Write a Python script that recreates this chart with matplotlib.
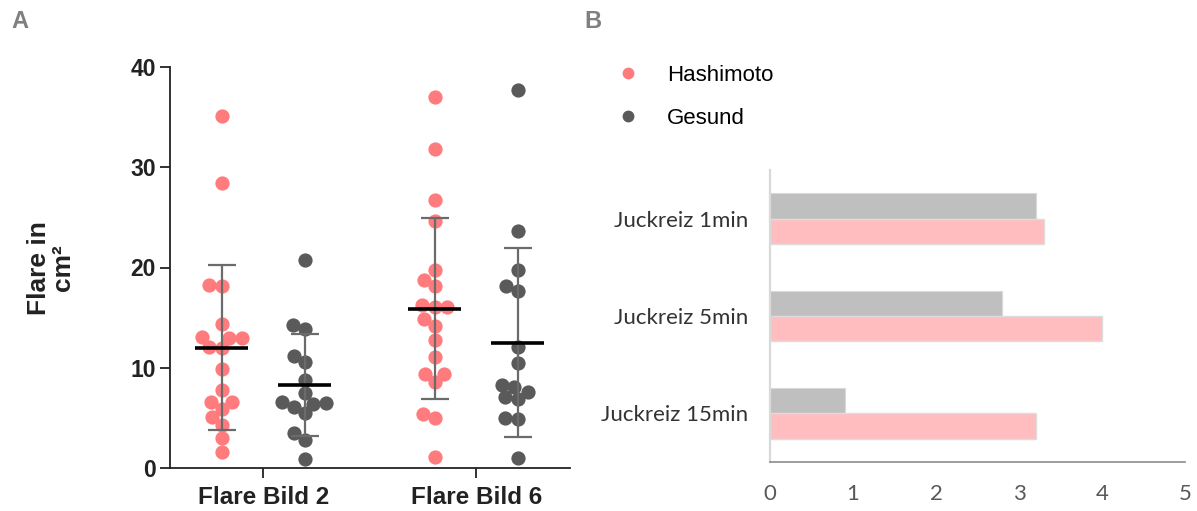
import numpy as np
import matplotlib.pyplot as plt
from matplotlib.lines import Line2D

# Panel A: Flare in cm2
gruppen = ['Flare Bild 2', 'Flare Bild 6']
hashimoto_bild2 = [35.1, 28.4, 18.3, 18.2, 14.4, 13.0, 13.0, 13.1, 12.1, 12.0,
                   9.9, 7.8, 6.6, 6.6, 5.9, 5.1, 4.3, 3.0, 1.6]
gesund_bild2 = [20.7, 14.3, 13.9, 11.2, 10.6, 8.8, 7.5, 6.1, 6.4, 6.5, 6.6,
                5.5, 3.5, 2.8, 0.9]
hashimoto_bild6 = [37.0, 31.8, 26.7, 24.6, 19.8, 18.8, 18.2, 16.3, 16.1, 16.1,
                   14.9, 14.2, 12.8, 11.1, 9.4, 9.4, 8.6, 5.4, 5.0, 1.1]
gesund_bild6 = [37.7, 23.6, 19.8, 18.2, 17.7, 12.1, 10.5, 8.1, 8.3, 7.6, 6.9,
                7.1, 5.0, 4.9, 1.0]
mittel_hashimoto = [12.0, 15.9]
sd_hashimoto = [8.2, 9.0]
mittel_gesund = [8.3, 12.5]
sd_gesund = [5.1, 9.45]

# Panel B: Juckreiz
zeitpunkte = ['Juckreiz 1min', 'Juckreiz 5min', 'Juckreiz 15min']
juckreiz_hashimoto = [3.3, 4.0, 3.2]
juckreiz_gesund = [3.2, 2.8, 0.9]

rot = '#FF7B7E'
grau = '#5A5A5A'


def swarm(werte, px_x, px_y, abstand=12.5):
    # einfache Beeswarm-Anordnung, Abstand in Pixel
    werte = np.asarray(werte, dtype=float)
    gesetzt = []
    xs = np.zeros(len(werte))
    for i in np.argsort(werte):
        y = werte[i] * px_y
        kandidaten = [0.0]
        for xj, yj in gesetzt:
            dy = abs(y - yj)
            if dy < abstand:
                dx = np.sqrt(abstand ** 2 - dy ** 2)
                kandidaten += [xj - dx, xj + dx]
        kandidaten.sort(key=abs)
        for x in kandidaten:
            if all((x - xj) ** 2 + (y - yj) ** 2 >= abstand ** 2 - 1e-6 for xj, yj in gesetzt):
                break
        gesetzt.append((x, y))
        xs[i] = x / px_x
    return xs


fig = plt.figure(figsize=(11.97, 5.11), dpi=100)
W, H = 1197, 511

# ---------------- Panel A ----------------
ax = fig.add_axes([170 / W, 1 - 468 / H, 400 / W, 401 / H])
ax.set_xlim(-0.437, 1.44)
ax.set_ylim(0, 40)
px_x = 400 / (1.44 + 0.437)
px_y = 401 / 40

pos = np.arange(len(gruppen))
off = 0.195
daten = [(hashimoto_bild2, gesund_bild2), (hashimoto_bild6, gesund_bild6)]
for i, (h, g) in enumerate(daten):
    xh = pos[i] - off + swarm(h, px_x, px_y)
    xg = pos[i] + off + swarm(g, px_x, px_y)
    ax.scatter(xh, h, s=105, color=rot, linewidths=0, zorder=2, clip_on=False)
    ax.scatter(xg, g, s=105, color=grau, linewidths=0, zorder=2, clip_on=False)

xm_h = pos - off
xm_g = pos + off
ax.errorbar(xm_h, mittel_hashimoto, yerr=sd_hashimoto, fmt='none', ecolor='#6b6b6b',
            elinewidth=1.6, capsize=10, capthick=1.6, zorder=3)
ax.errorbar(xm_g, mittel_gesund, yerr=sd_gesund, fmt='none', ecolor='#6b6b6b',
            elinewidth=1.6, capsize=10, capthick=1.6, zorder=3)
ax.hlines(mittel_hashimoto, xm_h - 0.125, xm_h + 0.125, color='black', lw=2.6, zorder=4)
ax.hlines(mittel_gesund, xm_g - 0.125, xm_g + 0.125, color='black', lw=2.6, zorder=4)

for s in ['top', 'right']:
    ax.spines[s].set_visible(False)
for s in ['left', 'bottom']:
    ax.spines[s].set_linewidth(1.3)
    ax.spines[s].set_color('#222222')
ax.set_yticks([0, 10, 20, 30, 40])
ax.set_xticks(pos, gruppen)
ax.tick_params(axis='both', length=7, width=1.3, color='#222222')
ax.tick_params(axis='y', pad=3)
ax.tick_params(axis='x', pad=6)
for t in ax.get_yticklabels():
    t.set_fontfamily('Liberation Sans')
    t.set_fontweight('bold')
    t.set_fontsize(16.5)
    t.set_color('#222222')
for t in ax.get_xticklabels():
    t.set_fontfamily('Liberation Sans')
    t.set_fontweight('bold')
    t.set_fontsize(17.5)
    t.set_color('#222222')

fig.text(51 / W, 1 - 268 / H, 'Flare in\ncm²', rotation=90, ha='center', va='center',
         multialignment='center', fontsize=19, fontweight='bold',
         family='Liberation Sans', color='#222222', linespacing=1.0)

fig.text(20 / W, 1 - 22 / H, 'A', ha='center', va='center', fontsize=17,
         fontweight='bold', family='Liberation Sans', color='#808080')
fig.text(593 / W, 1 - 22 / H, 'B', ha='center', va='center', fontsize=17,
         fontweight='bold', family='Liberation Sans', color='#808080')

# ---------------- Panel B ----------------
bx = fig.add_axes([770 / W, 1 - 462 / H, 415 / W, 292 / H])
y = np.arange(len(zeitpunkte))
hoehe = 0.26
bx.barh(y - hoehe / 2, juckreiz_gesund, height=hoehe, color='#BFBFBF',
        edgecolor='#D9D9D9', linewidth=0.8, zorder=2)
bx.barh(y + hoehe / 2, juckreiz_hashimoto, height=hoehe, color='#FFBDBF',
        edgecolor='#DDDDDD', linewidth=1.0, zorder=2)
bx.set_xlim(0, 5)
bx.set_ylim(2.5, -0.5)
bx.set_xticks(range(6))
bx.set_yticks(y, zeitpunkte)
for s in ['top', 'right']:
    bx.spines[s].set_visible(False)
bx.spines['left'].set_color('#D9D9D9')
bx.spines['left'].set_linewidth(1.6)
bx.spines['bottom'].set_color('#8C8C8C')
bx.spines['bottom'].set_linewidth(1.2)
bx.tick_params(axis='both', length=0)
bx.tick_params(axis='x', pad=16)
bx.tick_params(axis='y', pad=16)
for t in bx.get_xticklabels():
    t.set_fontfamily('Lato')
    t.set_fontsize(16)
    t.set_color('#595959')
for t in bx.get_yticklabels():
    t.set_fontfamily('Lato')
    t.set_fontsize(16)
    t.set_color('#333333')

handles = [Line2D([], [], marker='o', linestyle='none', color=rot, markersize=7.5),
           Line2D([], [], marker='o', linestyle='none', color=grau, markersize=7.5)]
fig.legend(handles, ['Hashimoto', 'Gesund'], loc='upper left',
           bbox_to_anchor=(606 / W, 1 - 65 / H), frameon=False,
           prop={'family': 'Liberation Sans', 'size': 16},
           handletextpad=0.75, labelspacing=1.0, borderpad=0, borderaxespad=0)

fig.savefig('out.png', dpi=100)
